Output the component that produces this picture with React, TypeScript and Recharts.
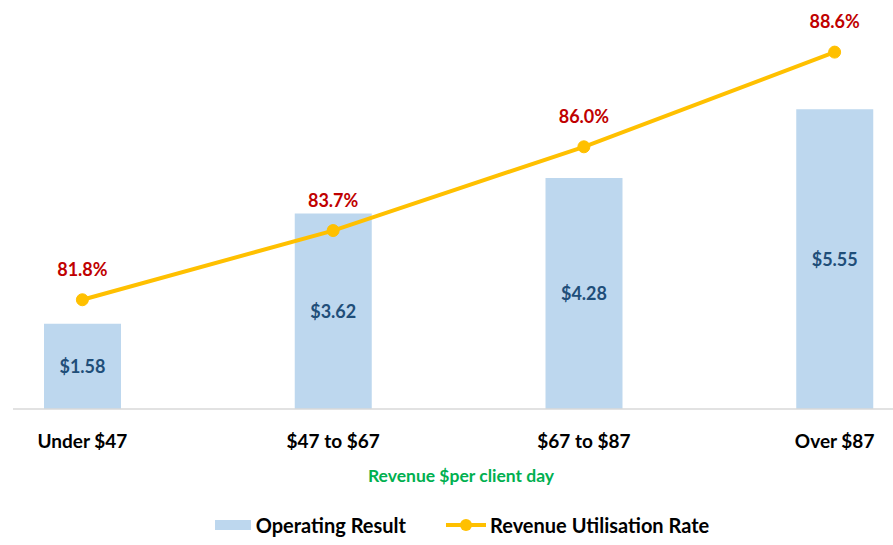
import React from 'react';
import { ComposedChart, Bar, Line, XAxis, YAxis, Legend, LabelList } from 'recharts';

const categories = ['Under $47', '$47 to $67', '$67 to $87', 'Over $87'];
const operatingResult = [1.58, 3.62, 4.28, 5.55];
const utilisationRate = [81.8, 83.7, 86.0, 88.6];

const data = categories.map((c, i) => ({
  name: c,
  op: operatingResult[i],
  rate: utilisationRate[i],
}));

const FONT = 'Lato, "Open Sans", sans-serif';

const renderLegend = () => (
  <div
    style={{
      display: 'flex',
      justifyContent: 'center',
      alignItems: 'center',
      height: 30,
      fontFamily: FONT,
      fontWeight: 700,
      fontSize: 20,
      color: '#000',
      paddingLeft: 18,
    }}
  >
    <svg width={36} height={10} style={{ marginRight: 5 }}>
      <rect x={0} y={0} width={36} height={10} fill="#BDD7EE" />
    </svg>
    <span style={{ marginRight: 40 }}>Operating Result</span>
    <svg width={40} height={14} style={{ marginRight: 4 }}>
      <line x1={0} y1={7} x2={40} y2={7} stroke="#FFC000" strokeWidth={4} />
      <circle cx={20} cy={7} r={6} fill="#FFC000" />
    </svg>
    <span>Revenue Utilisation Rate</span>
  </div>
);

export default function App() {
  return (
    <div style={{ position: 'absolute', left: 0, top: 0, background: '#fff' }}>
      <ComposedChart
        width={893}
        height={545}
        data={data}
        margin={{ top: 31, right: 0, left: 13, bottom: 5 }}
      >
        <XAxis
          dataKey="name"
          height={101}
          padding={{ left: -56, right: -67 }}
          axisLine={{ stroke: '#D9D9D9', strokeWidth: 1.5 }}
          tickLine={false}
          tickSize={0}
          tickMargin={26}
          tick={{ fill: '#000', fontFamily: FONT, fontWeight: 700, fontSize: 19 }}
          interval={0}
          label={{
            value: 'Revenue $per client day',
            position: 'insideBottom',
            offset: 28,
            dx: 8,
            fill: '#00B050',
            fontFamily: FONT,
            fontWeight: 700,
            fontSize: 17.5,
          }}
        />
        <YAxis yAxisId="left" hide domain={[0, 7]} />
        <YAxis yAxisId="right" hide orientation="right" domain={[78.8, 89.18]} allowDataOverflow />
        <Legend verticalAlign="bottom" content={renderLegend} />
        <Bar yAxisId="left" dataKey="op" name="Operating Result" fill="#BDD7EE" barSize={77} isAnimationActive={false}>
          <LabelList
            dataKey="op"
            position="center"
            formatter={(v: any) => `$${Number(v).toFixed(2)}`}
            fill="#1F4E79"
            style={{ fontFamily: FONT, fontWeight: 700, fontSize: 18 }}
          />
        </Bar>
        <Line
          yAxisId="right"
          dataKey="rate"
          name="Revenue Utilisation Rate"
          stroke="#FFC000"
          strokeWidth={4}
          dot={{ r: 6, fill: '#FFC000', stroke: '#FFC000', strokeWidth: 1 }}
          activeDot={false}
          isAnimationActive={false}
        >
          <LabelList
            dataKey="rate"
            position="top"
            offset={24}
            formatter={(v: any) => `${Number(v).toFixed(1)}%`}
            fill="#C00000"
            style={{ fontFamily: FONT, fontWeight: 700, fontSize: 18 }}
          />
        </Line>
      </ComposedChart>
    </div>
  );
}
